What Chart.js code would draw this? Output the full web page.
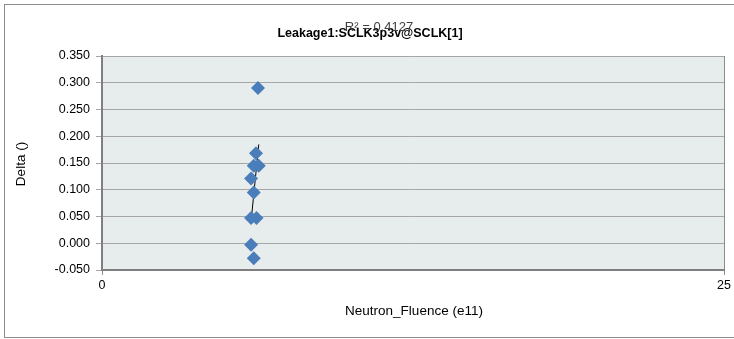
<!DOCTYPE html>
<html>
<head>
<meta charset="utf-8">
<script src="https://cdn.jsdelivr.net/npm/chart.js@4"></script>
<style>
  body { margin: 0; background: #fff; }
  #wrap { width: 734px; height: 339px; }
</style>
</head>
<body>
<div id="wrap"><canvas id="chart" width="734" height="339"></canvas></div>
<script>
const fluence = [6.27, 6.19, 6.10, 6.30, 5.99, 6.10, 5.99, 6.21, 5.99, 6.10];
const delta = [0.290, 0.168, 0.145, 0.145, 0.121, 0.095, 0.047, 0.047, -0.003, -0.028];
const titleText = 'Leakage1:SCLK3p3v@SCLK[1]';
const r2Text = 'R\u00b2 = 0.4127';
const xTitle = 'Neutron_Fluence (e11)';
const yTitle = 'Delta ()';

const points = fluence.map((x, i) => ({x: x, y: delta[i]}));

// least squares trend line over the data range
const n = fluence.length;
const mx = fluence.reduce((a, b) => a + b, 0) / n;
const my = delta.reduce((a, b) => a + b, 0) / n;
let sxy = 0, sxx = 0;
for (let i = 0; i < n; i++) {
  sxy += (fluence[i] - mx) * (delta[i] - my);
  sxx += (fluence[i] - mx) * (fluence[i] - mx);
}
const slope = sxy / sxx;
const icpt = my - slope * mx;
const xmin = Math.min(...fluence), xmax = Math.max(...fluence);
const trend = [{x: xmin, y: icpt + slope * xmin}, {x: xmax, y: icpt + slope * xmax}];

const FONT = "'Liberation Sans', Arial, sans-serif";

const decor = {
  id: 'decor',
  beforeDraw(chart) {
    const {ctx, chartArea: a} = chart;
    ctx.save();
    ctx.fillStyle = '#fff';
    ctx.fillRect(0, 0, chart.width, chart.height);
    ctx.strokeStyle = '#8c8c8c';
    ctx.lineWidth = 1;
    ctx.strokeRect(4.5, 4.5, 760, 333);
    ctx.fillStyle = '#e7ecec';
    ctx.fillRect(a.left, a.top, a.right - a.left, a.bottom - a.top);
    ctx.restore();
  },
  afterDraw(chart) {
    const ctx = chart.ctx;
    ctx.save();
    ctx.textAlign = 'center';
    ctx.textBaseline = 'middle';
    ctx.fillStyle = '#000';
    ctx.font = 'bold 12.5px ' + FONT;
    ctx.fillText(titleText, 370, 34);
    ctx.fillStyle = '#404040';
    ctx.font = '13px ' + FONT;
    ctx.fillText(r2Text, 379, 27);
    ctx.fillStyle = '#000';
    ctx.font = '13.5px ' + FONT;
    ctx.fillText(xTitle, 414, 311);
    ctx.translate(21, 164);
    ctx.rotate(-Math.PI / 2);
    ctx.fillText(yTitle, 0, 0);
    ctx.restore();
  }
};

new Chart(document.getElementById('chart'), {
  type: 'scatter',
  data: {
    datasets: [{
      label: 'Delta',
      data: points,
      pointStyle: 'rectRot',
      pointRadius: 7,
      pointHoverRadius: 7,
      backgroundColor: '#4a7ebb',
      borderColor: '#4a7ebb',
      borderWidth: 0
    }, {
      label: 'Trend',
      type: 'line',
      data: trend,
      borderColor: '#000',
      borderWidth: 1,
      pointRadius: 0,
      fill: false
    }]
  },
  options: {
    responsive: false,
    animation: false,
    layout: { padding: { left: 0, right: 9, top: 56, bottom: 0 } },
    plugins: { legend: { display: false }, title: { display: false }, tooltip: { enabled: false } },
    scales: {
      x: {
        type: 'linear',
        min: 0,
        max: 25,
        afterFit(s) { s.height = 69; },
        ticks: { stepSize: 25, color: '#000', font: { size: 12.5, family: FONT }, padding: 3 },
        grid: { color: '#8c8c8c', tickLength: 5, drawTicks: true },
        border: { color: '#7f7f7f', width: 2 }
      },
      y: {
        min: -0.05,
        max: 0.35,
        afterFit(s) { s.width = 102; },
        ticks: {
          stepSize: 0.05,
          color: '#000',
          font: { size: 12.5, family: FONT },
          padding: 6,
          callback: v => (Math.abs(v) < 1e-9 ? 0 : v).toFixed(3)
        },
        grid: { color: '#a6a6a6', tickLength: 6 },
        border: { color: '#7f7f7f', width: 2 }
      }
    }
  },
  plugins: [decor]
});
</script>
</body>
</html>
